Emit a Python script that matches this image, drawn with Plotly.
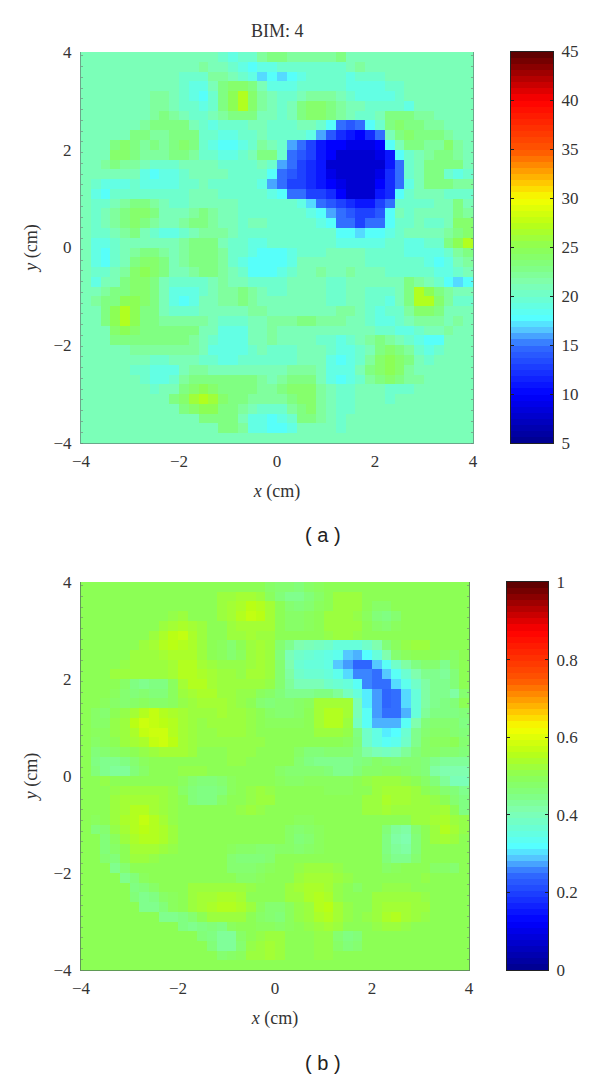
import numpy as np
import plotly.graph_objects as go

W, H = 600, 1078

# panel (a): BIM reconstruction, rows from y=4 down to y=-4
bim_values = [
    [21,21,21,21,21,21,21,21,21,21, 21,21,21,21,20,19,20,20,22,23, 23,22,22,22,22,22,23,21,21,21, 21,21,21,21,21,21,21,21,21,21],
    [21,21,21,21,21,21,21,21,21,21, 21,21,22,21,21,20,19,18,19,19, 20,20,20,20,20,20,20,21,22,21, 21,21,21,21,21,21,21,21,21,21],
    [21,21,21,21,21,21,21,21,21,21, 20,20,20,22,22,21,20,19,17,18, 17,18,19,20,20,20,20,19,20,20, 20,21,21,21,21,21,21,21,21,21],
    [21,21,21,21,21,21,21,21,21,21, 20,19,19,21,23,24,24,23,21,19, 19,19,20,20,20,20,20,19,19,19, 19,20,20,21,21,21,21,21,21,21],
    [21,21,21,21,21,21,21,22,22,21, 20,19,18,20,23,25,27,24,22,21, 20,20,21,22,22,22,21,20,19,19, 19,19,20,21,21,21,21,21,21,21],
    [21,21,21,21,21,21,21,22,22,21, 20,20,19,20,23,25,27,24,22,21, 20,21,23,24,24,23,22,21,21,20, 20,20,20,19,21,21,21,21,21,21],
    [21,21,21,21,21,21,21,22,23,22, 21,20,20,21,22,23,23,23,21,21, 20,21,23,24,24,23,22,21,20,20, 21,23,23,23,22,22,21,21,21,21],
    [21,21,21,21,21,21,22,23,23,23, 23,21,20,19,20,20,20,21,21,20, 20,20,21,21,20,18,15,14,15,18, 20,23,24,23,23,22,22,21,21,21],
    [21,21,21,21,21,23,23,22,22,23, 23,23,20,20,19,19,20,20,21,20, 20,20,20,19,16,14,12,11,10,12, 15,21,23,24,23,23,23,22,21,21],
    [21,21,21,23,24,23,22,23,22,23, 24,23,20,19,18,18,19,20,22,21, 20,16,15,13,11,10,10,9,9,9, 10,18,21,23,23,22,22,24,22,21],
    [21,21,21,24,24,23,22,22,22,23, 23,22,20,20,19,19,20,21,23,23, 20,15,14,13,11,10,8,8,8,8, 9,11,18,20,21,22,23,23,22,21],
    [21,21,22,23,22,22,21,20,20,20, 21,21,21,21,20,20,20,20,21,20, 16,15,13,12,11,8,8,8,8,8, 8,11,15,20,21,23,23,23,23,21],
    [21,21,21,21,21,21,19,18,19,19, 20,21,21,21,21,20,20,20,20,18, 15,14,13,12,11,9,8,8,8,8, 9,12,15,20,21,23,23,20,19,20],
    [21,20,19,19,19,20,19,19,19,19, 20,20,21,20,20,20,20,20,19,16, 15,13,13,12,11,10,9,8,8,8, 10,12,15,19,21,23,23,23,22,22],
    [21,19,18,20,20,20,20,20,20,20, 20,21,21,21,20,20,20,20,20,19, 18,15,15,13,13,12,10,8,8,8, 11,12,18,20,21,21,21,20,20,20],
    [21,20,20,21,22,23,23,22,21,20, 20,21,21,21,21,21,20,20,20,20, 20,20,19,17,15,14,13,12,11,11, 13,15,20,20,20,20,21,21,23,21],
    [21,20,21,22,23,24,24,23,21,21, 21,22,23,22,21,21,20,20,20,20, 20,20,20,19,18,16,15,14,13,13, 14,18,21,20,21,21,21,21,23,22],
    [21,20,21,22,23,24,23,22,21,21, 22,23,23,22,21,21,20,21,21,20, 20,20,20,20,19,18,15,15,13,15, 15,18,20,20,21,20,20,21,24,24],
    [21,20,20,21,22,23,21,20,19,19, 20,21,22,22,22,21,20,20,20,20, 20,20,20,20,20,20,18,18,17,18, 18,19,20,21,21,21,21,22,23,24],
    [21,19,19,20,21,21,21,21,21,21, 22,23,23,23,21,20,20,19,19,20, 20,20,20,20,20,20,19,19,19,19, 19,20,20,19,19,20,20,23,25,27],
    [21,19,18,20,21,22,23,23,22,21, 22,23,23,23,22,20,20,19,18,18, 18,19,20,20,20,21,21,21,21,20, 20,20,20,19,19,19,19,20,22,23],
    [21,19,18,20,21,23,24,24,23,21, 22,23,23,23,22,20,19,18,18,18, 18,19,21,21,21,21,21,21,21,20, 20,20,20,20,20,19,18,19,21,22],
    [21,20,20,21,22,24,25,24,23,21, 21,22,23,23,22,21,20,18,18,18, 19,20,21,21,22,21,21,22,21,21, 21,20,20,20,20,20,19,19,20,21],
    [21,19,21,21,23,24,24,23,21,20, 20,20,20,21,22,21,21,20,20,20, 20,21,21,21,21,20,20,21,21,21, 21,21,21,23,22,21,20,18,17,18],
    [21,21,22,23,23,24,24,23,21,19, 19,19,20,21,22,22,23,22,21,20, 20,21,21,21,21,20,20,21,21,20, 20,20,21,23,27,25,23,22,21,21],
    [21,22,23,23,25,25,24,23,21,19, 18,19,21,21,22,22,23,22,21,21, 21,21,21,21,21,20,20,21,21,20, 20,19,21,23,27,27,24,22,20,20],
    [21,21,23,25,27,25,23,23,21,20, 20,20,21,21,21,21,21,22,22,21, 21,21,21,21,21,21,22,22,21,20, 19,20,20,22,24,24,23,21,21,21],
    [21,21,23,25,27,25,23,23,22,22, 22,22,22,21,20,20,20,21,21,22, 22,22,23,23,22,22,22,21,21,20, 19,19,20,21,22,22,22,21,22,21],
    [21,21,21,24,25,24,23,23,23,23, 23,23,21,21,19,19,19,21,21,22, 21,21,21,21,21,21,21,21,21,21, 20,20,19,19,20,21,21,22,21,21],
    [21,21,21,23,23,23,23,23,23,23, 23,22,21,20,19,19,19,21,21,22, 21,21,21,21,20,20,19,20,21,22, 23,22,21,20,19,18,18,21,21,21],
    [21,21,21,21,21,22,22,22,22,22, 22,22,21,19,19,19,19,20,21,20, 20,20,21,21,21,20,19,19,20,21, 23,24,23,22,20,19,20,21,21,21],
    [21,21,21,21,21,21,21,20,20,21, 21,21,20,20,19,19,20,20,20,20, 20,20,21,21,21,19,18,19,20,22, 24,25,24,23,21,20,21,21,21,21],
    [21,21,21,21,21,20,20,19,19,19, 21,22,22,21,21,21,21,21,21,21, 21,22,22,22,21,19,19,19,21,23, 24,25,24,22,21,21,21,21,21,21],
    [21,21,21,21,21,21,20,19,19,20, 22,23,23,23,23,23,23,23,22,21, 22,23,23,23,21,19,18,19,20,22, 23,24,23,22,22,21,21,21,21,21],
    [21,21,21,21,21,21,21,20,21,21, 23,24,25,24,23,23,23,23,22,22, 23,24,24,24,22,21,20,20,21,21, 21,20,20,20,21,21,21,21,21,21],
    [21,21,21,21,21,21,21,21,21,23, 24,26,27,26,24,23,23,22,22,22, 22,23,24,24,22,21,20,20,21,21, 21,20,21,21,21,21,21,21,21,21],
    [21,21,21,21,21,21,21,21,21,21, 23,24,25,25,23,23,22,21,20,20, 20,22,23,24,22,21,20,20,21,21, 21,21,21,21,21,21,21,21,21,21],
    [21,21,21,21,21,21,21,21,21,21, 21,21,23,23,23,23,21,19,19,18, 19,20,23,23,22,21,20,21,21,21, 21,21,21,21,21,21,21,21,21,21],
    [21,21,21,21,21,21,21,21,21,21, 21,21,21,21,23,23,22,19,19,18, 18,19,21,21,21,21,20,21,21,21, 21,21,21,21,21,21,21,21,21,21],
    [21,21,21,21,21,21,21,21,21,21, 21,21,21,21,21,21,21,21,21,21, 21,21,21,21,21,21,21,21,21,21, 21,21,21,21,21,21,21,21,21,21],
]

# panel (b): values in hundredths, same row order
contrast_values = [
    [50,50,50,50,50,50,50,50,50,50, 50,50,50,50,50,50,50,50,50,48, 47,47,46,48,49,50,50,50,50,50, 50,50,50,50,50,50,50,50,50,50],
    [50,50,50,50,50,50,50,50,50,50, 50,50,50,50,52,52,53,53,52,49, 46,44,44,46,48,50,52,52,52,50, 50,50,50,50,50,50,50,50,50,50],
    [50,50,50,50,50,50,50,50,50,50, 50,50,50,50,52,53,54,56,55,53, 50,47,46,47,49,50,52,52,52,50, 48,48,50,50,50,50,50,50,50,50],
    [50,50,50,50,50,50,50,50,50,51, 52,50,50,50,52,53,55,57,56,53, 50,48,48,49,50,52,52,52,51,49, 46,45,47,50,50,50,50,50,50,50],
    [50,50,50,50,50,50,50,50,52,53, 54,53,52,50,50,52,53,53,53,53, 50,48,48,49,50,52,52,52,52,50, 48,47,49,50,50,50,50,50,50,50],
    [50,50,50,50,50,50,50,52,54,56, 57,54,52,50,50,52,52,53,52,52, 50,50,50,50,50,51,52,52,51,50, 50,50,50,50,50,50,50,50,50,50],
    [50,50,50,50,50,50,52,53,55,56, 55,54,52,50,49,47,50,52,53,52, 47,44,41,40,39,38,36,36,36,38, 41,46,49,51,52,52,50,50,50,50],
    [50,50,50,50,50,52,52,52,53,54, 54,54,52,50,49,47,49,52,53,52, 46,40,38,37,36,35,34,29,28,32, 36,41,47,49,50,50,50,49,48,50],
    [50,50,50,50,51,52,52,52,52,53, 55,55,53,52,51,51,51,52,53,52, 47,41,37,36,36,35,29,27,24,24, 29,33,38,42,45,47,47,44,48,50],
    [50,50,50,52,52,52,52,52,52,53, 55,55,54,53,52,52,51,53,53,52, 47,42,38,37,37,36,34,30,26,26, 25,29,33,37,41,44,44,43,46,50],
    [50,50,50,50,48,45,44,45,45,49, 53,55,55,53,52,52,52,52,52,51, 47,43,40,40,40,38,37,36,33,26, 25,25,30,34,38,42,44,44,46,50],
    [50,50,50,49,47,46,47,46,46,49, 52,53,54,54,52,52,51,51,49,48, 46,44,44,44,45,45,43,39,36,31, 27,24,25,30,36,42,44,44,42,47],
    [50,50,49,48,47,48,49,48,48,49, 51,52,53,53,53,52,51,50,47,46, 47,47,48,49,53,53,53,53,40,31, 27,24,25,30,36,42,44,45,46,50],
    [50,48,47,50,51,53,55,57,55,54, 53,52,52,52,53,52,52,51,50,48, 47,47,48,50,53,55,55,53,40,33, 27,25,25,28,36,43,45,45,45,46],
    [50,48,48,51,52,56,58,57,56,55, 53,52,51,52,52,52,52,51,50,49, 49,49,49,50,53,55,55,52,39,33, 28,28,28,33,41,46,47,47,47,45],
    [50,49,49,51,52,54,57,58,58,55, 53,52,51,51,52,52,52,51,50,50, 50,50,50,50,52,52,52,51,45,38, 35,31,32,37,44,47,48,48,47,46],
    [50,48,49,50,52,53,54,57,58,56, 53,52,51,51,51,51,51,51,51,50, 50,50,50,50,50,50,50,49,46,38, 35,33,34,38,44,48,49,49,50,47],
    [50,46,47,48,49,50,51,52,53,53, 53,52,50,50,50,51,51,51,50,50, 50,50,48,46,46,47,47,47,45,42, 40,39,40,43,46,48,48,47,47,46],
    [50,45,44,44,45,47,49,50,50,50, 50,50,50,50,50,51,51,50,50,50, 50,50,47,45,44,44,44,44,45,46, 48,47,46,47,47,46,44,43,43,43],
    [50,46,44,43,43,46,48,50,50,50, 51,51,51,50,50,50,50,50,50,50, 48,47,47,47,47,46,44,44,46,48, 48,49,49,48,47,46,42,41,41,41],
    [50,50,51,50,50,50,50,50,50,50, 49,47,46,46,47,49,50,50,50,50, 49,48,48,49,49,49,49,49,50,51, 52,52,52,51,50,48,46,43,40,40],
    [50,50,50,51,52,52,52,52,52,51, 48,46,45,45,46,49,50,51,52,51, 50,50,50,50,50,49,49,49,50,50, 52,53,53,53,52,50,49,47,46,44],
    [50,50,50,52,53,53,53,53,52,51, 50,46,45,45,48,50,50,51,52,52, 50,50,50,50,50,50,50,50,50,52, 52,54,53,53,52,52,51,50,47,45],
    [50,50,50,52,53,55,55,53,52,51, 50,50,50,50,50,50,51,52,51,50, 50,50,50,50,50,50,50,50,50,52, 52,53,52,52,52,52,52,53,50,45],
    [50,49,50,52,54,55,57,55,53,51, 50,50,50,50,50,50,50,50,50,50, 50,50,49,49,50,50,50,50,50,50, 50,50,50,50,52,52,53,54,52,51],
    [50,46,47,51,53,55,56,55,54,52, 50,50,50,50,50,50,50,50,50,50, 50,48,47,48,49,50,50,50,50,50, 50,46,43,42,47,50,52,55,53,51],
    [50,50,46,49,52,54,55,55,54,52, 50,50,50,50,50,50,50,50,50,50, 50,48,46,47,49,50,50,50,50,50, 50,45,42,41,46,50,52,53,52,50],
    [50,50,46,48,50,53,53,53,52,51, 50,50,50,50,50,49,48,48,47,47, 48,48,47,48,49,50,50,50,50,50, 50,45,43,42,46,50,50,50,50,50],
    [50,50,47,46,50,52,52,51,50,50, 50,50,50,50,50,47,46,46,46,47, 50,50,50,50,50,50,50,50,50,50, 50,46,44,44,47,50,50,50,50,50],
    [50,50,50,44,47,50,50,50,50,50, 50,50,50,50,50,47,47,47,48,49, 50,50,51,52,52,52,51,50,50,50, 50,48,49,50,50,50,48,48,47,50],
    [50,50,50,50,44,46,49,50,50,50, 50,50,50,50,50,50,48,48,49,50, 50,50,52,53,53,53,52,51,50,50, 50,50,50,50,50,51,50,50,50,50],
    [50,50,50,50,50,45,46,48,50,50, 50,52,52,52,52,52,52,51,50,50, 50,52,53,54,54,53,51,50,48,50, 50,51,51,51,50,50,50,50,50,50],
    [50,50,50,50,50,46,44,45,48,49, 50,52,53,53,54,54,53,50,50,50, 50,52,52,54,55,54,51,50,50,50, 52,52,52,52,52,51,50,50,50,50],
    [50,50,50,50,50,50,44,44,46,49, 50,52,53,54,55,55,54,52,49,47, 47,49,51,52,55,56,53,51,50,50, 52,53,53,53,52,52,50,50,50,50],
    [50,50,50,50,50,50,50,50,44,44, 45,47,50,52,52,52,52,50,48,47, 46,49,51,52,54,55,53,51,50,51, 52,54,55,53,52,51,50,50,50,50],
    [50,50,50,50,50,50,50,50,50,50, 45,44,45,46,45,49,50,50,49,49, 48,49,50,51,52,53,52,50,50,50, 51,52,52,51,50,50,50,50,50,50],
    [50,50,50,50,50,50,50,50,50,50, 50,50,46,45,43,43,48,50,51,52, 52,50,50,50,51,51,47,45,46,50, 50,50,50,50,50,50,50,50,50,50],
    [50,50,50,50,50,50,50,50,50,50, 50,50,50,46,43,43,47,51,52,53, 52,50,50,50,51,51,48,46,47,50, 50,50,50,50,50,50,50,50,50,50],
    [50,50,50,50,50,50,50,50,50,50, 50,50,50,50,47,48,49,52,52,53, 52,50,50,50,51,51,50,50,50,50, 50,50,50,50,50,50,50,50,50,50],
    [50,50,50,50,50,50,50,50,50,50, 50,50,50,50,50,50,50,50,50,50, 50,50,50,50,50,50,50,50,50,50, 50,50,50,50,50,50,50,50,50,50],
]

bad = [(n, i, len(r)) for n, g in (("a", bim_values), ("b", contrast_values)) for i, r in enumerate(g) if len(r) != 40]
assert not bad and len(bim_values) == 40 and len(contrast_values) == 40, bad

jet_like = [
    [0.0, "rgb(0,0,140)"], [0.125, "rgb(0,0,255)"], [0.25, "rgb(50,110,255)"],
    [0.29, "rgb(85,200,255)"], [0.32, "rgb(85,255,255)"], [0.375, "rgb(110,255,205)"],
    [0.41, "rgb(128,255,175)"], [0.45, "rgb(128,255,130)"], [0.5, "rgb(140,255,85)"],
    [0.56, "rgb(185,255,20)"], [0.625, "rgb(245,255,0)"], [0.66, "rgb(255,205,0)"],
    [0.75, "rgb(255,85,0)"], [0.875, "rgb(255,0,0)"], [1.0, "rgb(85,0,0)"],
]

cm_ticks = [-4, -2, 0, 2, 4]
n_cells = 40
cell_edges = np.linspace(-4, 4, n_cells + 1)
cell_mid = (cell_edges[:-1] + cell_edges[1:]) / 2
n_levels = 64

serif = "Liberation Serif"
tick_font = dict(family=serif, size=17, color="#333333")
title_font = dict(family=serif, size=18, color="#333333")

def dom_x(a, b):
    return [a / W, b / W]

def dom_y(top, bottom):
    return [1 - bottom / H, 1 - top / H]

fig = go.Figure()

panels = [
    dict(z=np.array(bim_values), zmin=5, zmax=45, box=(81, 473, 52, 443), bar=(511, 553, 51.5, 443),
         ticks=[5, 10, 15, 20, 25, 30, 35, 40, 45], line="#6aa88a", ax=1),
    dict(z=np.array(contrast_values) / 100, zmin=0, zmax=1, box=(81, 469, 582, 970), bar=(507, 548, 582, 970),
         ticks=[0, 0.2, 0.4, 0.6, 0.8, 1], line="#5f9a55", ax=3),
]

for p in panels:
    a = p["ax"]
    fig.add_trace(go.Heatmap(x=cell_mid, y=cell_mid[::-1], z=p["z"], zmin=p["zmin"], zmax=p["zmax"],
                             colorscale=jet_like, showscale=False, xaxis=f"x{a}", yaxis=f"y{a}"))
    step = (p["zmax"] - p["zmin"]) / n_levels
    levels = p["zmin"] + step * (np.arange(n_levels) + 0.5)
    fig.add_trace(go.Heatmap(x=[0], y=levels, z=levels[:, None], zmin=p["zmin"], zmax=p["zmax"],
                             colorscale=jet_like, showscale=False, xaxis=f"x{a+1}", yaxis=f"y{a+1}"))
    l, r, t, b = p["box"]
    bl, br, bt, bb = p["bar"]
    fig.update_layout({
        f"xaxis{a}": dict(domain=dom_x(l, r), range=[-4, 4], tickvals=cm_ticks, anchor=f"y{a}", automargin=False,
                          ticks="outside", ticklen=3, tickcolor="rgba(0,0,0,0)", tickfont=tick_font,
                          showgrid=False, zeroline=False, showline=True, linecolor=p["line"], linewidth=1,
                          title=dict(text="<i>x</i> (cm)", font=title_font, standoff=13)),
        f"yaxis{a}": dict(domain=dom_y(t, b), range=[-4, 4], tickvals=cm_ticks, anchor=f"x{a}", automargin=False,
                          ticks="outside", ticklen=5, tickcolor="rgba(0,0,0,0)", tickfont=tick_font,
                          showgrid=False, zeroline=False, showline=True, linecolor=p["line"], linewidth=1,
                          mirror="ticks",
                          minor=dict(ticks="inside", ticklen=2, tickcolor="rgba(120,120,120,0.6)", tick0=-4, dtick=0.22),
                          title=dict(text="<i>y</i> (cm)", font=title_font, standoff=11)),
        f"xaxis{a+1}": dict(domain=dom_x(bl, br), range=[-0.5, 0.5], anchor=f"y{a+1}", showticklabels=False,
                            automargin=False, ticks="", showgrid=False, zeroline=False, showline=True, mirror=True,
                            linecolor="#222222", linewidth=1),
        f"yaxis{a+1}": dict(domain=dom_y(bt, bb), range=[p["zmin"], p["zmax"]], tickvals=p["ticks"],
                            anchor=f"x{a+1}", side="right", ticks="inside", ticklen=3, tickcolor="#222222",
                            ticklabelstandoff=4, automargin=False, tickfont=tick_font, showgrid=False,
                            zeroline=False, showline=True, mirror="ticks", linecolor="#222222", linewidth=1),
    })

fig.update_layout(
    width=W, height=H, margin=dict(l=0, r=0, t=0, b=0),
    paper_bgcolor="white", plot_bgcolor="white", showlegend=False,
    annotations=[
        dict(text="BIM: 4", xref="paper", yref="paper", x=277 / W, y=1 - 31 / H, yanchor="middle", showarrow=False,
             font=dict(family=serif, size=18, color="#333333")),
        dict(text="( a )", xref="paper", yref="paper", x=323 / W, y=1 - 535 / H, yanchor="middle", showarrow=False,
             font=dict(family="Liberation Sans", size=20, color="#222222")),
        dict(text="( b )", xref="paper", yref="paper", x=323 / W, y=1 - 1063 / H, yanchor="middle", showarrow=False,
             font=dict(family="Liberation Sans", size=20, color="#222222")),
    ],
)

fig.write_html("out.html", config=dict(displayModeBar=False), post_script="document.body.style.margin='0';")
